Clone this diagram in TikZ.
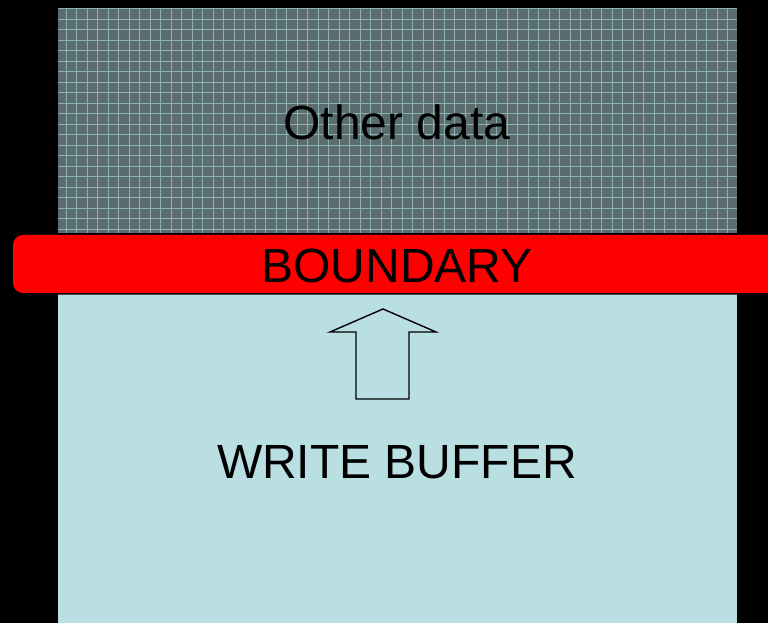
\documentclass[tikz,border=0pt]{standalone}
\usepackage{fontspec}
\setmainfont{Liberation Sans}
\definecolor{hatchbg}{HTML}{5B6C6F}
\definecolor{hatchln}{HTML}{8AB2B5}
\definecolor{bufbg}{HTML}{B9DFE2}
\definecolor{bndred}{HTML}{FF0000}
\tikzset{
  lbl/.style={font=\fontsize{48}{52}\selectfont, text=black, inner sep=0pt},
  gridln/.style={hatchln, line width=0.6pt}
}
\begin{document}
\begin{tikzpicture}[x=1pt,y=1pt]
\useasboundingbox (0,0) rectangle (768,623);
\clip (0,0) rectangle (768,623);
\fill[black] (0,0) rectangle (768,623);
% top hatched box
\fill[hatchbg] (58,390) rectangle (737,615);
\begin{scope}
\clip (58,390) rectangle (737,615);
\foreach \x in {66,76.5,...,737} \draw[gridln] (\x,390) -- (\x,615);
\foreach \y in {394,404.5,...,615} \draw[gridln] (58,\y) -- (737,\y);
\end{scope}
\node[lbl] (other) at (397,501) {Other data};
% bottom buffer
\fill[bufbg] (58,0) rectangle (737,328);
\draw[black!70, line width=0.8pt] (58,328.4) -- (737,328.4);
\node[lbl] (wb) at (397,161) {WRITE BUFFER};
% boundary bar
\fill[bndred, rounded corners=10pt] (13,330) rectangle (790,388);
\node[lbl] (bnd) at (397,357) {BOUNDARY};
% arrow
\draw[black, line width=1.4pt, fill=bufbg, line join=miter]
  (383,314) -- (436,291) -- (409,291) -- (409,224) -- (356,224) -- (356,291) -- (330,291) -- cycle;
\end{tikzpicture}
\end{document}
